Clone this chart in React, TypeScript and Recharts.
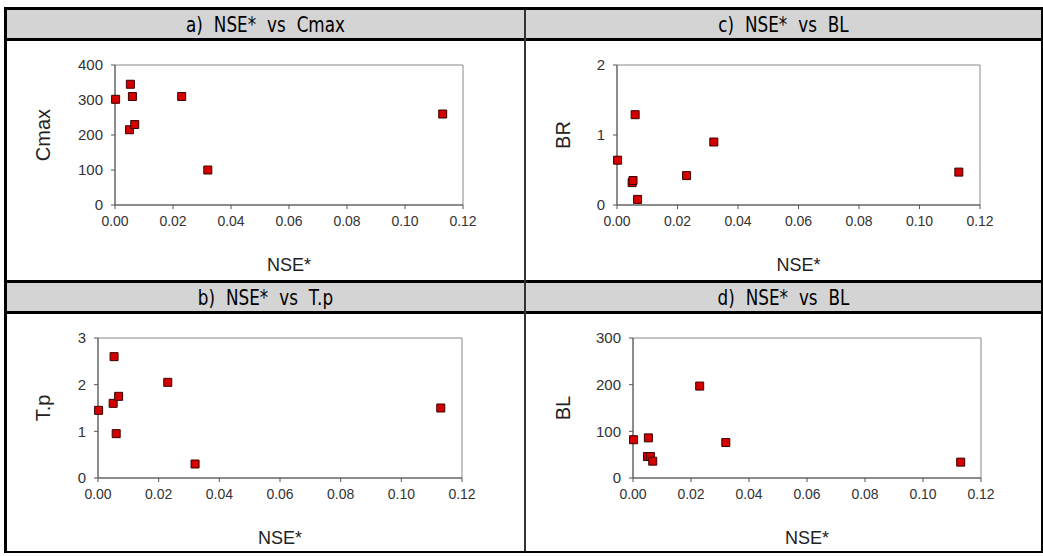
import { ScatterChart, Scatter, XAxis, YAxis, ZAxis, ReferenceArea } from 'recharts';

// shared x values (NSE*) and the four y series, same point order
const nse = [0.0002, 0.005, 0.0053, 0.006, 0.0068, 0.023, 0.032, 0.113];
const cmax = [302, 215, 345, 310, 230, 310, 100, 260];
const br = [0.64, 0.32, 0.35, 1.29, 0.08, 0.42, 0.9, 0.47];
const tp = [1.45, 1.6, 2.6, 0.95, 1.75, 2.05, 0.3, 1.5];
const bl = [82, 46, 86, 46, 36, 197, 76, 34];

const xTicks = [0, 0.02, 0.04, 0.06, 0.08, 0.1, 0.12];
const cmaxTicks = [0, 100, 200, 300, 400];
const brTicks = [0, 1, 2];
const tpTicks = [0, 1, 2, 3];
const blTicks = [0, 100, 200, 300];

const titles = ['a) NSE* vs Cmax', 'c) NSE* vs BL', 'b) NSE* vs T.p', 'd) NSE* vs BL'];

const FONT = "'Liberation Sans', Arial, sans-serif";
const tickStyle = { fontSize: 14, fill: '#333', fontFamily: FONT };

type PanelProps = {
  left: number;
  top: number;
  width: number;
  height: number;
  yWidth: number;
  xHeight: number;
  mTop: number;
  mRight: number;
  yLabel: string;
  yOffset: number;
  xOffset: number;
  values: number[];
  yTicks: number[];
};

function Panel(p: PanelProps) {
  const data = nse.map((x, i) => ({ x, y: p.values[i] }));
  const yMax = p.yTicks[p.yTicks.length - 1];
  return (
    <div style={{ position: 'absolute', left: p.left, top: p.top }}>
      <ScatterChart
        width={p.width}
        height={p.height}
        margin={{ top: p.mTop, right: p.mRight, bottom: 0, left: 0 }}
      >
        <XAxis
          type="number"
          dataKey="x"
          domain={[0, 0.12]}
          ticks={xTicks}
          tickFormatter={(v) => Number(v).toFixed(2)}
          tick={tickStyle}
          tickSize={4}
          tickMargin={7}
          axisLine={{ stroke: '#555' }}
          tickLine={{ stroke: '#555' }}
          height={p.xHeight}
          label={{
            value: 'NSE*',
            position: 'insideBottom',
            offset: p.xOffset,
            fill: '#222',
            fontSize: 18,
            fontFamily: FONT,
          }}
        />
        <YAxis
          type="number"
          dataKey="y"
          domain={[0, yMax]}
          ticks={p.yTicks}
          tick={{ ...tickStyle, fontSize: 15 }}
          tickSize={4}
          tickMargin={8}
          axisLine={{ stroke: '#555' }}
          tickLine={{ stroke: '#555' }}
          width={p.yWidth}
          label={{
            value: p.yLabel,
            angle: -90,
            position: 'insideLeft',
            offset: p.yOffset,
            fill: '#222',
            fontSize: 20,
            fontFamily: FONT,
            style: { textAnchor: 'middle' },
          }}
        />
        <ZAxis range={[50, 50]} />
        <ReferenceArea x1={0} x2={0.12} y1={0} y2={yMax} fill="none" stroke="#888" strokeWidth={1} />
        <Scatter
          data={data}
          shape="square"
          fill="#d40000"
          stroke="#3a0000"
          strokeWidth={1}
          isAnimationActive={false}
        />
      </ScatterChart>
    </div>
  );
}

// narrow, tall header lettering with wide word gaps
const headerText = {
  position: 'absolute' as const,
  fontFamily: "'DejaVu Sans', sans-serif",
  fontSize: 21,
  wordSpacing: 7,
  color: '#000',
  textAlign: 'center' as const,
  lineHeight: '28px',
  height: 28,
  transform: 'scaleX(0.8)',
  whiteSpace: 'nowrap' as const,
};

export default function App() {
  return (
    <div style={{ position: 'absolute', left: 0, top: 0, width: 1043, height: 556, background: '#fff' }}>
      {/* header bands */}
      <div style={{ position: 'absolute', left: 4, top: 10, width: 1039, height: 28, background: '#d4d4d4' }} />
      <div style={{ position: 'absolute', left: 4, top: 283, width: 1039, height: 28, background: '#d4d4d4' }} />
      <div style={{ position: 'absolute', left: 4, top: 38, width: 1039, height: 3, background: '#000' }} />
      <div style={{ position: 'absolute', left: 4, top: 280, width: 1039, height: 3, background: '#000' }} />
      <div style={{ position: 'absolute', left: 4, top: 311, width: 1039, height: 3, background: '#000' }} />
      {/* vertical divider */}
      <div style={{ position: 'absolute', left: 524, top: 10, width: 2, height: 542, background: '#333' }} />
      {/* outer frame */}
      <div
        style={{
          position: 'absolute',
          left: 4,
          top: 7,
          width: 1039,
          height: 546,
          boxSizing: 'border-box',
          borderTop: '3px solid #000',
          borderLeft: '3px solid #000',
          borderRight: '2px solid #000',
          borderBottom: '2px solid #000',
        }}
      />
      <div style={{ ...headerText, left: 7, top: 11, width: 517 }}>{titles[0]}</div>
      <div style={{ ...headerText, left: 526, top: 11, width: 515 }}>{titles[1]}</div>
      <div style={{ ...headerText, left: 7, top: 284, width: 517 }}>{titles[2]}</div>
      <div style={{ ...headerText, left: 526, top: 284, width: 515 }}>{titles[3]}</div>

      <Panel left={7} top={41} width={517} height={240} yWidth={108} xHeight={76} mTop={24} mRight={61}
        yLabel="Cmax" yOffset={36} xOffset={10} values={cmax} yTicks={cmaxTicks} />
      <Panel left={526} top={41} width={515} height={240} yWidth={91} xHeight={76} mTop={24} mRight={61}
        yLabel="BR" yOffset={37} xOffset={10} values={br} yTicks={brTicks} />
      <Panel left={7} top={314} width={517} height={237} yWidth={91} xHeight={73} mTop={24} mRight={62}
        yLabel="T.p" yOffset={36} xOffset={7} values={tp} yTicks={tpTicks} />
      <Panel left={526} top={314} width={515} height={237} yWidth={107} xHeight={73} mTop={24} mRight={60}
        yLabel="BL" yOffset={37} xOffset={7} values={bl} yTicks={blTicks} />
    </div>
  );
}
